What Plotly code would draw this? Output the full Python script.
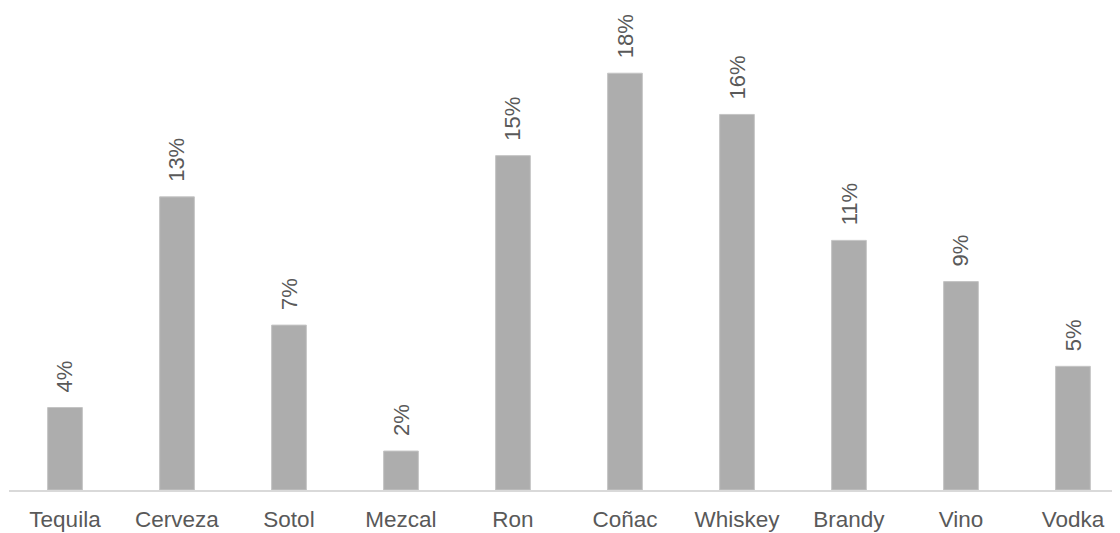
import plotly.graph_objects as go

categories = ["Tequila", "Cerveza", "Sotol", "Mezcal", "Ron", "Coñac", "Whiskey", "Brandy", "Vino", "Vodka"]
values = [3.6, 12.8, 7.2, 1.7, 14.6, 18.2, 16.4, 10.9, 9.1, 5.4]
labels = ["4%", "13%", "7%", "2%", "15%", "18%", "16%", "11%", "9%", "5%"]

TEXT = "#595959"
FONT = "Liberation Sans, Arial, sans-serif"

fig = go.Figure(go.Bar(
    x=categories, y=values,
    marker=dict(color="#ADADAD", line=dict(color="#C4C4C4", width=1)),
    width=0.31,
))

for c, v, t in zip(categories, values, labels):
    fig.add_annotation(x=c, y=v, text=t, showarrow=False, textangle=-90,
                       yanchor="bottom", xanchor="center", yshift=13,
                       font=dict(family=FONT, size=22, color=TEXT))

fig.update_layout(
    width=1112, height=525,
    margin=dict(l=1, r=0, t=2, b=43),
    paper_bgcolor="white", plot_bgcolor="white",
    showlegend=False,
    font=dict(family=FONT, size=22, color=TEXT),
    xaxis=dict(type="category", range=[-0.5, 9.42], showgrid=False, zeroline=False,
               automargin=False,
               showline=True, linecolor="#D9D9D9", linewidth=2, ticks="",
               ticklabelstandoff=8,
               tickfont=dict(family=FONT, size=22.5, color=TEXT)),
    yaxis=dict(range=[0, 20.96], visible=False, showgrid=False, zeroline=False,
               automargin=False),
)

fig.write_html("out.html")
